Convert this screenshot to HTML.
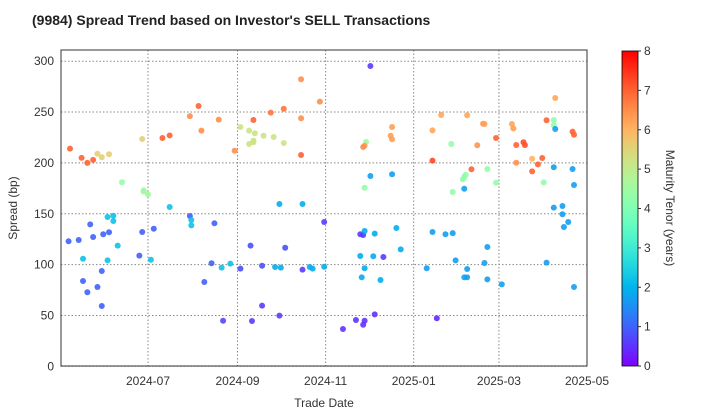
<!DOCTYPE html>
<html><head><meta charset="utf-8"><style>
html,body{margin:0;padding:0;background:#fff;}
svg{display:block;font-family:"Liberation Sans",sans-serif;}
</style></head><body>
<svg id="chart" width="720" height="420" viewBox="0 0 720 420">
<defs>
<linearGradient id="cbgrad" x1="0" y1="1" x2="0" y2="0"></linearGradient>
</defs>
<text x="32" y="25" font-size="14" font-weight="bold" fill="#222">(9984)   Spread Trend based on Investor's SELL Transactions</text>
<g id="grid"></g>
<g id="points"></g>
<rect x="61" y="50" width="526" height="316" fill="none" stroke="#333" stroke-width="1"/>
<g id="axes"></g>
<text x="324" y="407" font-size="12" text-anchor="middle" fill="#333">Trade Date</text>
<text transform="translate(17,208) rotate(-90)" font-size="12" text-anchor="middle" fill="#333">Spread (bp)</text>
<rect x="622" y="51" width="16" height="315" fill="url(#cbgrad)" stroke="#000" stroke-width="0.8"/>
<g id="cbticks"></g>
<text transform="translate(666,208) rotate(90)" font-size="12" text-anchor="middle" fill="#333">Maturity Tenor (years)</text>
</svg>
<script>
// days since 2024-07-01
const tradeDay = [-54,-46,-42,-38,-35,-32,-27,-4,10,15,29,35,49,37,60,-18,-3,-3,0,15,29,30,30,46,-28,-24,-24,-40,-55,-48,-38,-31,-27,-4,4,-21,-45,-28,-6,2,44,51,57,-32,-45,-42,-35,-32,39,52,
154,106,119,94,85,106,73,64,70,74,80,87,70,73,73,94,106,169,168,169,151,150,149,154,169,150,91,107,122,71,95,64,79,88,92,107,112,114,122,147,149,150,157,172,175,147,156,163,150,148,161,79,72,91,135,144,150,149,157,
282,203,221,232,233,197,252,253,276,281,281,282,294,295,241,255,260,261,228,210,197,266,273,255,270,266,224,235,220,219,218,241,211,219,274,281,294,295,281,287,287,291,288,197,206,211,235,213,233,276,193,221,219,221,235,245,295,200];
const spread = [214,205,200,203,209,205.5,208.5,223.5,224.5,227,246,256,242.5,231.7,212,181,173,171.7,169,156.6,147.8,143.8,138.6,140.6,146.8,148,142.9,139.6,122.9,124.2,127.1,129.8,131.8,132,135.3,118.6,105.8,104.2,108.8,104.8,101.3,97,100.9,93.7,83.9,72.8,78,59.3,82.9,44.8,
295.3,282.2,260.2,253.3,249.4,243.9,242.2,235.3,231.7,229.1,226.7,225.5,218.6,221.8,220.3,219.6,207.8,235.3,226.7,223.2,220.6,216.9,215.6,187.1,188.8,175.6,159.6,159.6,141.9,118.6,116.6,96,98.9,97.6,97,95,97.6,96,97.9,129.8,129.1,133,130.4,136,115,108.5,108.2,107.5,96.4,87.5,84.9,59.6,44.5,49.8,36.7,45.5,44.8,40.9,51.1,
263.8,247.1,246.8,238.5,238.2,232,238.2,234,241.9,242.2,237,233.3,230.7,227.7,224.5,217.6,220.3,217.6,217.3,218.6,202.2,204.1,204.8,200.2,198.6,191.7,193.7,194,188.4,186.4,183.9,180.5,171.4,174.6,180.9,195.7,194,178.3,156,157.6,149.5,141.9,137,132,129.8,131,117.3,104.2,101.6,101.9,96.4,95.7,87.5,87.5,85.5,80.6,78,47.2];
const tenor = [7,7,7,7,5.6,5.6,5.6,5.6,7,7,6.5,7,6.5,6.5,6.5,4.3,4.5,4.5,4.5,2.2,1,2.2,2.2,1,2.2,2.2,2.2,1,1,1,1,1,1,1,1,2.2,2.2,2.2,1,2.2,1,2.2,2.2,1,1,1,1,1,1,0.7,
0.6,6.5,6.5,6.8,6.8,6.5,7,5.2,5.2,5.2,5.2,5.2,5.2,5.2,5.2,5.2,7,6.3,6.3,6.3,4.5,6.3,6.5,1.7,1.7,4.3,1.9,1.9,0.6,0.8,0.8,0.8,0.8,1.9,1.9,0.6,1.9,1.9,1.9,0.6,0.6,1.9,1.9,1.9,1.9,1.9,1.9,0.6,1.9,1.9,1.9,0.6,0.6,0.6,0.5,0.5,0.5,0.5,0.5,
6.2,6.2,6.2,6.3,6.3,6.2,6.2,6.3,7,4.3,4.3,1.7,7,7,7,7,7.2,7.2,6.4,4.3,7.3,6,7,6.5,7,7,7,4.3,4.3,4.3,4.3,4.3,4.3,1.7,4.3,1.7,1.7,1.7,1.7,1.7,1.7,1.7,1.7,1.7,1.7,1.7,1.7,1.7,1.7,1.7,1.7,1.7,1.7,1.7,1.7,1.7,1.7,0.4];
const yTicks = [0,50,100,150,200,250,300];
const xTickDays = [0,62,123,184,243,304];
const xTickLabels = ["2024-07","2024-09","2024-11","2025-01","2025-03","2025-05"];
const cbTicks = [0,1,2,3,4,5,6,7,8];

const NS="http://www.w3.org/2000/svg";
const X0=148, PXD=1.4441, Y0=366.3, PXV=1.017;
const xs=d=>X0+d*PXD, ys=v=>Y0-v*PXV;
function rainbow(t){t=Math.max(0,Math.min(1,t/8));
 const r=Math.min(1,Math.abs(2*t-0.5)), g=Math.sin(Math.PI*t), b=Math.cos(Math.PI*t/2);
 return `rgb(${Math.round(r*255)},${Math.round(g*255)},${Math.round(b*255)})`;}
function mk(tag,attrs,parent){const e=document.createElementNS(NS,tag);for(const k in attrs)e.setAttribute(k,attrs[k]);parent.appendChild(e);return e;}
const grid=document.getElementById('grid'), axes=document.getElementById('axes');
yTicks.forEach(v=>{
 const y=ys(v);
 const l=mk('line',{x1:61,x2:587,y1:y,y2:y,stroke:'#888','stroke-dasharray':'1.5,2','stroke-width':1},grid);
 
 
 const t=mk('text',{x:54,y:y+4,'font-size':12,'text-anchor':'end',fill:'#333'},axes);
 t.textContent=v;
 
 
});
xTickDays.forEach((d,i)=>{
 const x=xs(d);
 const l=mk('line',{x1:x,x2:x,y1:50,y2:366,stroke:'#888','stroke-dasharray':'1.5,2','stroke-width':1},grid);
 
 
 const t=mk('text',{x:x,y:385,'font-size':12,'text-anchor':'middle',fill:'#333'},axes);
 t.textContent=xTickLabels[i];
 
 
});
const pts=document.getElementById('points');
tradeDay.forEach((d,i)=>{
 const c=mk('circle',{cx:xs(d),cy:ys(spread[i]),r:3,fill:rainbow(tenor[i]),'fill-opacity':0.9},pts);
 
 
});
const grad=document.getElementById('cbgrad');
for(let i=0;i<=20;i++){mk('stop',{offset:(i/20),'stop-color':rainbow(i*8/20)},grad);}
const cbt=document.getElementById('cbticks');
cbTicks.forEach(v=>{
 const y=366-v*(315/8);
 mk('line',{x1:638,x2:641,y1:y,y2:y,stroke:'#333'},cbt);
 const t=mk('text',{x:644,y:y+4,'font-size':12,fill:'#333'},cbt);
 t.textContent=v;
 
 
});
</script>
</body></html>
